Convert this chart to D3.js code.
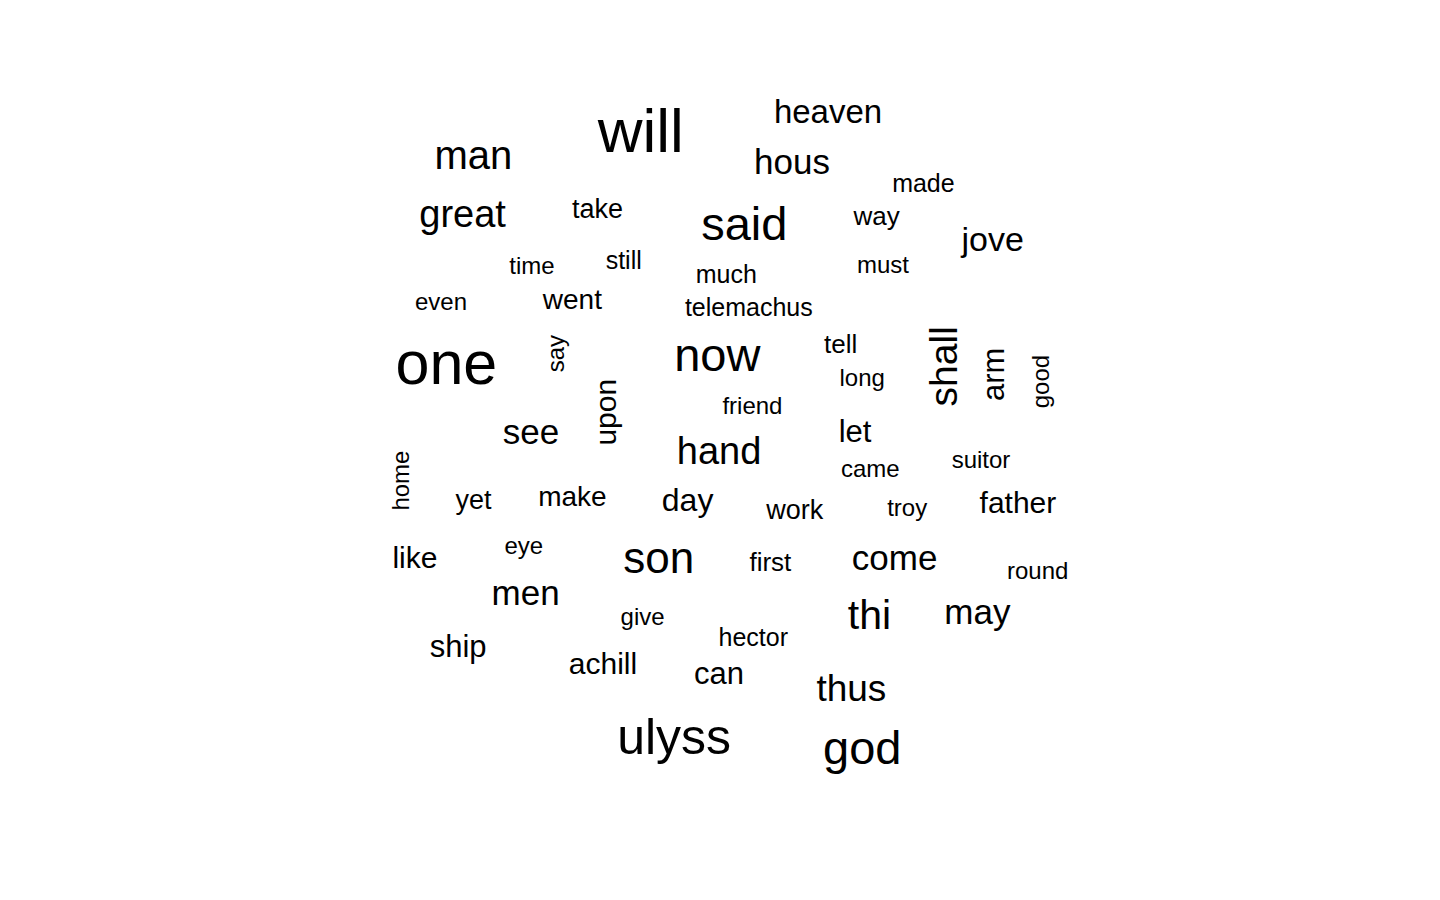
<!DOCTYPE html>
<html>
<head>
<meta charset="utf-8">
<script src="https://cdn.jsdelivr.net/npm/d3@7"></script>
<style>
  html, body { margin: 0; padding: 0; background: #ffffff; }
  svg { display: block; }
</style>
</head>
<body>
<svg id="chart" width="1440" height="900"></svg>
<script>
// Words of the cloud
const words = ["will","heaven","man","hous","made","great","take","said","way","jove",
  "time","still","much","must","even","went","telemachus","one","say","upon",
  "now","tell","long","shall","arm","good","friend","see","hand","let",
  "came","suitor","home","yet","make","day","work","troy","father","like",
  "eye","son","first","come","round","men","give","thi","may","ship",
  "hector","achill","can","thus","ulyss","god"];

// Relative frequencies (estimated from the size of each word)
const freqs = [62,33,40,35,25,38,27,47,26,34,
  24,25,25,24,24,28,25,61,24,30,
  47,26,24,39,31,24,24,35,38,31,
  24,24,24,27,28,32,27,24,30,30,
  24,44,26,35,24,35,24,41,35,31,
  25,30,31,37,50,47];

// Layout positions in the unit square of the cloud (x right, y up)
const layoutX = [0.412,0.620,0.226,0.580,0.726,0.214,0.364,0.527,0.674,0.803,
  0.291,0.393,0.507,0.681,0.190,0.336,0.532,0.196,0.327,0.384,
  0.497,0.634,0.658,0.763,0.816,0.866,0.536,0.290,0.499,0.650,
  0.667,0.790,0.154,0.226,0.336,0.464,0.583,0.708,0.831,0.161,
  0.282,0.432,0.556,0.694,0.853,0.284,0.414,0.666,0.786,0.209,
  0.537,0.370,0.499,0.646,0.449,0.658];
const layoutY = [0.831,0.863,0.812,0.807,0.787,0.748,0.758,0.733,0.750,0.721,
  0.696,0.701,0.686,0.697,0.656,0.657,0.649,0.573,0.607,0.542,
  0.588,0.608,0.571,0.593,0.584,0.576,0.540,0.507,0.485,0.509,
  0.470,0.480,0.466,0.435,0.438,0.432,0.423,0.427,0.430,0.369,
  0.385,0.363,0.366,0.367,0.357,0.328,0.306,0.301,0.307,0.270,
  0.282,0.251,0.240,0.221,0.162,0.151];

// Words drawn vertically
const rotated = ["say","upon","shall","arm","good","home"];

const data = words.map((w, i) => ({
  word: w, freq: freqs[i], x: layoutX[i], y: layoutY[i], rot: rotated.includes(w)
}));

const svg = d3.select("#chart");
const W = 1440, H = 900;
// square plotting region centred in the window (aspect ratio 1)
const side = Math.min(W, H);
const x = d3.scaleLinear().domain([0, 1]).range([(W - side) / 2, (W + side) / 2]);
const y = d3.scaleLinear().domain([0, 1]).range([H, 0]);
const size = d3.scaleLinear().domain([d3.min(freqs), d3.max(freqs)]).range([24, 62]);

svg.append("rect").attr("width", W).attr("height", H).attr("fill", "#ffffff");

svg.append("g")
  .selectAll("text")
  .data(data)
  .join("text")
  .attr("text-anchor", "middle")
  .attr("font-family", "'Liberation Sans', Arial, Helvetica, sans-serif")
  .attr("font-size", d => size(d.freq))
  .attr("fill", "#000000")
  .attr("transform", d => `translate(${x(d.x)},${y(d.y)})` + (d.rot ? " rotate(-90)" : ""))
  .text(d => d.word);
</script>
</body>
</html>
